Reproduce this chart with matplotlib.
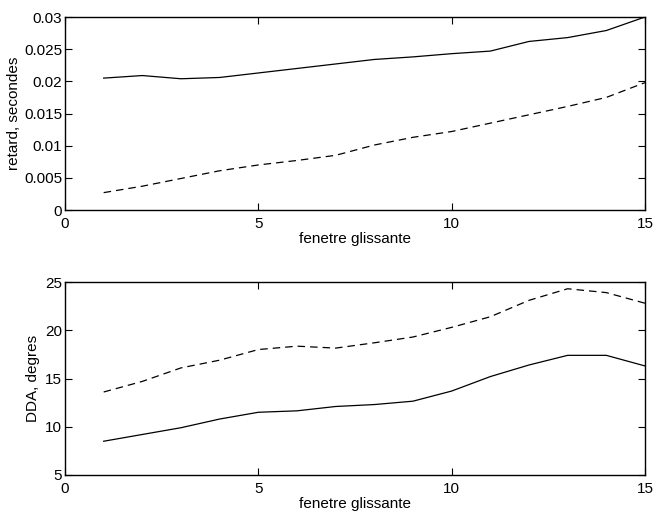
import numpy as np
import matplotlib
matplotlib.use('Agg')
import matplotlib.pyplot as plt

plt.rcParams['font.family'] = ['Liberation Sans', 'DejaVu Sans']

# fenetre glissante
fenetre = np.arange(1, 16)

# retard (secondes)
retard_plein = [0.0205, 0.0209, 0.0204, 0.0206, 0.0213, 0.0220, 0.0227, 0.0234,
                0.0238, 0.0243, 0.0247, 0.0262, 0.0268, 0.0279, 0.0300]
retard_tirets = [0.0027, 0.0037, 0.0049, 0.0061, 0.0070, 0.0077, 0.0085, 0.0101,
                 0.0113, 0.0122, 0.0135, 0.0148, 0.0161, 0.0175, 0.0198]

# DDA (degres)
dda_plein = [8.5, 9.2, 9.9, 10.8, 11.5, 11.65, 12.1, 12.3, 12.65, 13.7,
             15.2, 16.4, 17.4, 17.4, 16.3]
dda_tirets = [13.6, 14.7, 16.1, 16.9, 18.0, 18.35, 18.15, 18.7, 19.3, 20.3,
              21.4, 23.1, 24.3, 23.9, 22.8]

xticks = [0, 5, 10, 15]
yticks_haut = [0, 0.005, 0.01, 0.015, 0.02, 0.025, 0.03]
ylabels_haut = ['0', '0.005', '0.01', '0.015', '0.02', '0.025', '0.03']
yticks_bas = [5, 10, 15, 20, 25]

fig = plt.figure(figsize=(6.58, 5.16), dpi=100)
ax1 = fig.add_axes([65/658, 1 - 210/516, 580/658, 193/516])
ax2 = fig.add_axes([65/658, 1 - 475/516, 580/658, 193/516])


def style(ax):
    ax.tick_params(direction='in', top=True, right=True, length=5, width=0.8,
                   labelsize=11, colors='black')
    ax.tick_params(axis='x', pad=5)
    ax.tick_params(axis='y', pad=2)
    for s in ax.spines.values():
        s.set_linewidth(1.0)
    ax.set_xlim(0, 15)
    ax.set_xticks(xticks)
    ax.set_xlabel('fenetre glissante', fontsize=11, labelpad=1)


ax1.plot(fenetre, retard_plein, color='black', lw=0.9)
ax1.plot(fenetre, retard_tirets, color='black', lw=0.9, dashes=(6, 4))
style(ax1)
ax1.set_ylim(0, 0.03)
ax1.set_yticks(yticks_haut)
ax1.set_yticklabels(ylabels_haut)
ax1.set_ylabel('retard, secondes', fontsize=11, labelpad=2)

ax2.plot(fenetre, dda_plein, color='black', lw=0.9)
ax2.plot(fenetre, dda_tirets, color='black', lw=0.9, dashes=(6, 4))
style(ax2)
ax2.set_ylim(5, 25)
ax2.set_yticks(yticks_bas)
ax2.set_ylabel('DDA, degres', fontsize=11, labelpad=4)

fig.savefig('out.png', dpi=100)
